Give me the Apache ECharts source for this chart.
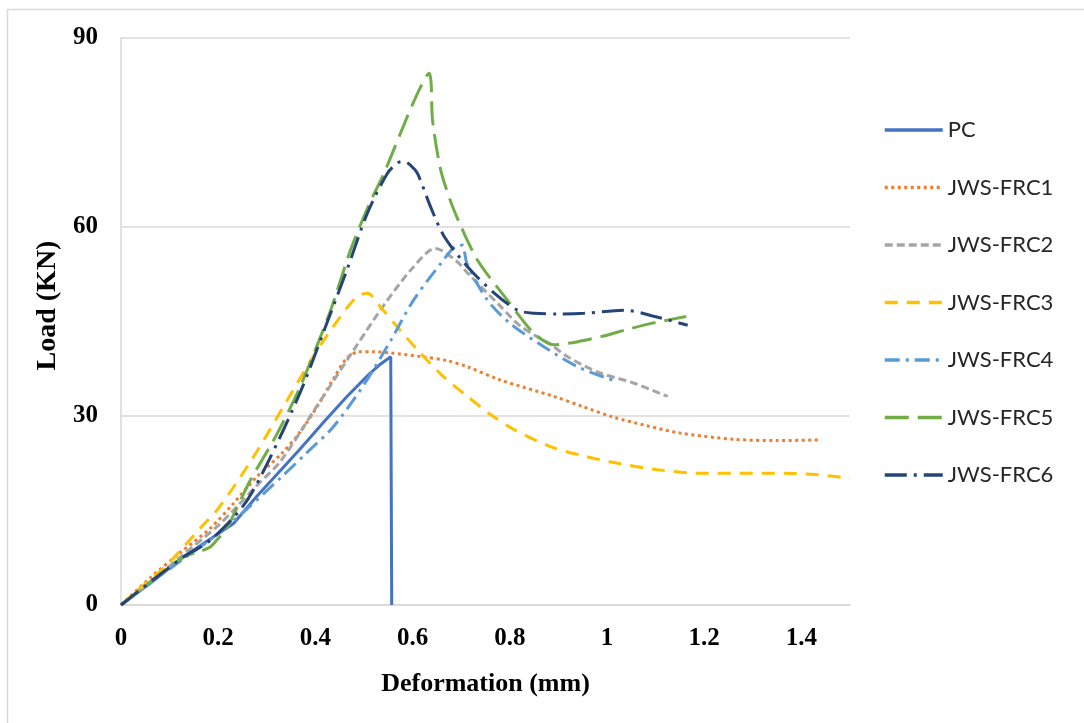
<!DOCTYPE html>
<html>
<head>
<meta charset="utf-8">
<script src="https://cdn.jsdelivr.net/npm/echarts@6/dist/echarts.min.js"></script>
<style>
html,body{margin:0;padding:0;background:#fff;}
#chart{width:1084px;height:723px;}
</style>
</head>
<body>
<div id="chart"></div>
<script>
// ---- data (x = Deformation mm, y = Load kN) ----
const seriesNames = ['PC','JWS-FRC1','JWS-FRC2','JWS-FRC3','JWS-FRC4','JWS-FRC5','JWS-FRC6'];
const xTicks = [0,0.2,0.4,0.6,0.8,1,1.2,1.4];
const yTicks = [0,30,60,90];

const pc = [[0,0],[0.066,3.8],[0.128,7.6],[0.2,11.3],[0.231,12.9],[0.28,17.3],[0.33,21.5],[0.369,24.8],[0.42,29.3],[0.465,33.1],[0.51,36.6],[0.535,38.3],[0.555,39.4],[0.557,0]];
const frc1 = [[0,0],[0.06,4.3],[0.12,8.2],[0.184,12.2],[0.23,16],[0.28,20.4],[0.33,24],[0.369,27.5],[0.41,32.3],[0.44,36.3],[0.465,39.2],[0.49,40.2],[0.52,40.2],[0.555,40],[0.62,39.4],[0.67,38.8],[0.713,37.8],[0.781,35.7],[0.891,33.1],[0.95,31.5],[1.014,29.8],[1.08,28.5],[1.15,27.3],[1.262,26.3],[1.35,26.1],[1.437,26.2]];
const frc2 = [[0,0],[0.066,4],[0.128,8],[0.2,12.6],[0.231,15],[0.28,19],[0.328,22.8],[0.4,31.2],[0.479,40.5],[0.541,47.6],[0.6,53.5],[0.647,56.6],[0.69,54.6],[0.713,52.7],[0.781,47.4],[0.823,44.2],[0.885,41.3],[0.919,39.4],[0.98,37],[1.056,35.2],[1.125,33.1]];
const frc3 = [[0,0],[0.05,3.4],[0.094,6.3],[0.163,12.2],[0.2,15.3],[0.27,23.2],[0.342,32.5],[0.4,40],[0.45,45.6],[0.485,48.9],[0.507,49.5],[0.534,47.3],[0.57,44],[0.61,40.5],[0.66,36.5],[0.713,33.1],[0.761,30.2],[0.81,27.8],[0.885,25.1],[0.95,23.7],[1.022,22.5],[1.1,21.5],[1.194,20.9],[1.28,20.9],[1.365,20.9],[1.43,20.7],[1.5,20.1]];
const frc4 = [[0,0],[0.066,3.8],[0.128,7.3],[0.2,11.3],[0.26,15.3],[0.33,20.3],[0.38,24],[0.437,28.3],[0.5,35],[0.555,42],[0.602,48.4],[0.658,54.2],[0.69,57],[0.702,57.1],[0.712,54.2],[0.754,48.4],[0.802,44.6],[0.87,41],[0.94,37.8],[1.015,35.6]];
const frc5 = [[0,0],[0.066,4],[0.128,7.6],[0.163,8.5],[0.185,9.3],[0.197,10.3],[0.218,12.2],[0.245,16.5],[0.266,19.8],[0.32,27],[0.369,34.7],[0.43,46.5],[0.472,56.3],[0.51,63.5],[0.541,68.5],[0.589,77.5],[0.615,82],[0.634,84.4],[0.638,83],[0.641,77],[0.658,69],[0.685,62.7],[0.733,54.8],[0.795,48.4],[0.85,43.1],[0.891,41.3],[0.94,41.8],[0.988,42.6],[1.04,43.7],[1.091,44.7],[1.163,45.8]];
const frc6 = [[0,0],[0.066,4],[0.128,7.6],[0.184,10.3],[0.252,15.8],[0.3,22.3],[0.369,33.8],[0.42,44],[0.465,53.2],[0.507,62.2],[0.548,68.5],[0.57,70.2],[0.582,70.4],[0.596,69.8],[0.61,68.5],[0.637,63.2],[0.665,58.5],[0.713,53.7],[0.768,49.5],[0.816,46.8],[0.85,46.3],[0.9,46.2],[0.953,46.3],[1.036,46.8],[1.098,45.8],[1.166,44.4]];

const dataSets = [pc, frc1, frc2, frc3, frc4, frc5, frc6];
const colors = ['#4472C4','#ED7D31','#A5A5A5','#FFC000','#5B9BD5','#70AD47','#264478'];
const dashes = ['solid',[3,3.5],[8,4],[13,9],[15,6,3,6],[24,9],[22,7,3,7]];
const smooths = [false,0.3,0.3,0.3,0.3,0.25,0.3];

const chart = echarts.init(document.getElementById('chart'), null, {renderer:'canvas'});
const serif = '"Liberation Serif", "Times New Roman", serif';

const option = {
  backgroundColor:'#fff',
  animation:false,
  graphic:[{
    type:'rect', shape:{x:7.5,y:9.5,width:1300,height:900},
    style:{fill:'none',stroke:'#D9D9D9',lineWidth:1.5}, silent:true, z:-1
  }],
  grid:{left:121,right:234,top:38,bottom:118,containLabel:false},
  legend:{
    orient:'vertical', left:883, top:118, padding:0,
    itemWidth:58, itemHeight:14, itemGap:33.5,
    data:seriesNames,
    itemStyle:{opacity:0},
    lineStyle:{width:3.5},
    textStyle:{fontFamily:'Lato, "Noto Sans", sans-serif', fontSize:22, color:'#262626', lineHeight:24}
  },
  xAxis:{
    type:'value', min:0, max:1.5, interval:0.2,
    name:'Deformation (mm)', nameLocation:'middle', nameGap:66,
    nameTextStyle:{fontFamily:serif, fontWeight:'bold', fontSize:26, color:'#000'},
    axisLine:{show:true, lineStyle:{color:'#D9D9D9', width:1.5}},
    axisTick:{show:false},
    splitLine:{show:false},
    axisLabel:{showMaxLabel:false, margin:21, fontFamily:serif, fontWeight:'bold', fontSize:25, color:'#000',
      formatter:function(v){ return xTicks.indexOf(Math.round(v*10)/10) >= 0 ? String(Math.round(v*10)/10) : ''; }}
  },
  yAxis:{
    type:'value', min:0, max:90, interval:30,
    name:'Load (KN)', nameLocation:'middle', nameGap:51,
    nameTextStyle:{fontFamily:serif, fontWeight:'bold', fontSize:28, color:'#000', padding:[0,0,0,32]},
    axisLine:{show:true, lineStyle:{color:'#D9D9D9', width:1.5}},
    axisTick:{show:false},
    splitLine:{show:true, lineStyle:{color:'#D9D9D9', width:1.5}},
    axisLabel:{margin:23, fontFamily:serif, fontWeight:'bold', fontSize:25, color:'#000',
      formatter:function(v){ return yTicks.indexOf(v) >= 0 ? String(v) : ''; }}
  },
  series: seriesNames.map(function(name, i){
    return {
      name:name, type:'line', data:dataSets[i], showSymbol:false, symbol:'none',
      smooth:smooths[i],
      lineStyle:{color:colors[i], width:3, type:dashes[i], cap:'butt'},
      itemStyle:{color:colors[i]},
      emphasis:{disabled:true}
    };
  })
};
chart.setOption(option);
</script>
</body>
</html>
